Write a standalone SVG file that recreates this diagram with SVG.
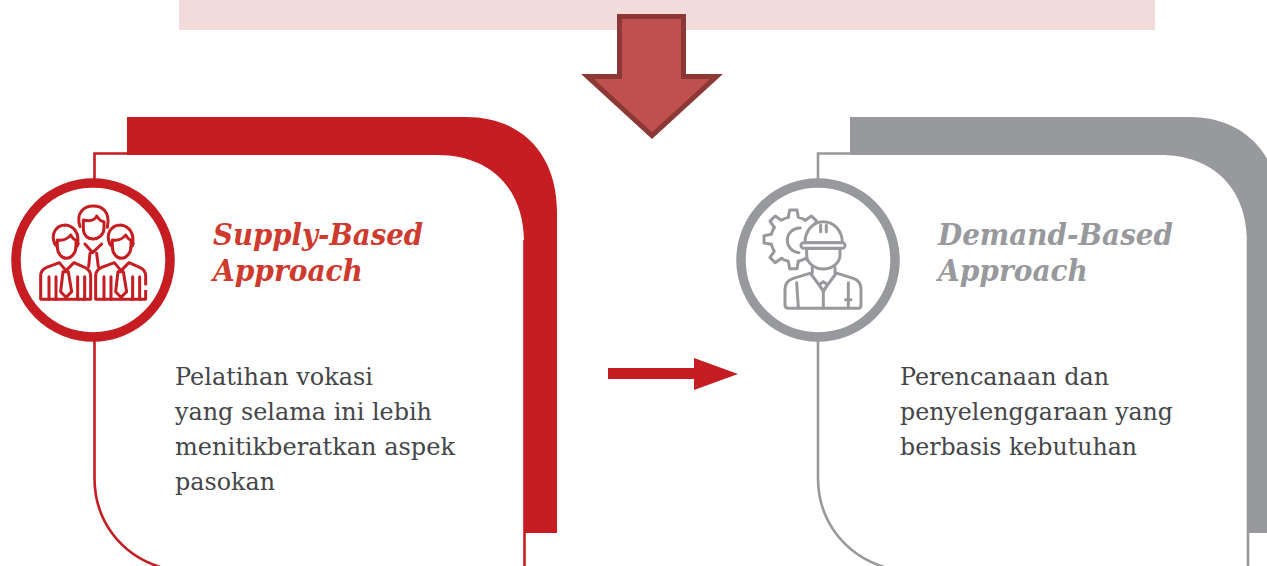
<svg xmlns="http://www.w3.org/2000/svg" xmlns:xlink="http://www.w3.org/1999/xlink" width="1267" height="566" viewBox="0 0 1267 566">
<style>
.title{font-family:"DejaVu Serif","Liberation Serif",serif;font-style:italic;font-weight:bold;font-size:29px}
.body{font-family:"DejaVu Serif","Liberation Serif",serif;font-size:24px;fill:#45454a}
.ln{fill:none;stroke-width:2.6}
.ic{fill:none;stroke-width:9;stroke-linejoin:round;stroke-linecap:round}
.red{stroke:#c51d21}.gray{stroke:#98999c}
.w{fill:#fff}
</style>
<defs>
<g id="person">
<path class="w" d="M-32 58C-47 25-27 0 0 0C25 3 43 25 35 62"/>
<path class="w" d="M-25 45C-7 47 8 40 15 30C21 40 28 45 31 45V65C31 85 15 100 3 100C-12 100-25 85-25 65Z"/>
<path d="M-32 56L-25 66M38 56L31 66"/>
<path class="w" d="M-19 113L-57 127C-69 132-75 140-75 153V223H75V153C75 140 69 132 57 127L25 113L1 137Z"/>
<path class="w" d="M-8 140H8L18 200L1 217L-15 200Z"/>
<path d="M-50 223V155M-29 155V223M36 223V155M57 155V223"/>
</g>
<path id="tooth" d="M-15-66L-11-88H11L15-66A68 68 0 0 1 36-57"/>
</defs>
<rect id="banner" x="179" y="0" width="976" height="30" fill="#f2dcdb"/>
<g id="connectors">
<polygon points="619.500,16.500 683.500,16.500 683.500,76.500 716.500,76.500 652,135.500 587.500,76.500 619.500,76.500" fill="#c0504d" stroke="#8c3836" stroke-width="5"/>
<rect x="608" y="368" width="87" height="11" fill="#c51d21"/>
<polygon points="694,358 738,374 694,390" fill="#c51d21"/>
</g>
<g id="supply">
<path d="M127 117H466C522 117 557 155 557 212V533H524V242C524 188 490 155 437 155H127Z" fill="#c51d21"/>
<path class="ln red" d="M127 153.500H94.500V478C94.500 522 122 555 160 567M524.500 240V567"/>
<circle cx="93" cy="260" r="77" fill="#fff" stroke="#c51d21" stroke-width="9.500"/>
<g class="ic red" transform="translate(0,170) scale(.3333)">
<path d="M240 170C226 125 255 108 280 108C306 108 332 125 322 172"/>
<path d="M250 150C270 155 285 150 290 138C298 150 305 155 312 155V175C312 195 295 207 280 207C262 207 250 195 250 175Z"/>
<path d="M255 222L278 248L305 222M270 250L266 290M290 250L295 290"/>
<use xlink:href="#person" transform="translate(197,165)"/>
<use xlink:href="#person" transform="translate(362,165)"/>
<rect x="428" y="346" width="18" height="14" fill="#fff" stroke="none"/>
</g>
<text class="title" x="213" y="245" fill="#cf3a2e" textLength="210" lengthAdjust="spacingAndGlyphs">Supply-Based</text>
<text class="title" x="213" y="281" fill="#cf3a2e" textLength="150" lengthAdjust="spacingAndGlyphs">Approach</text>
<text class="body" x="175" y="385" textLength="198" lengthAdjust="spacingAndGlyphs">Pelatihan vokasi</text>
<text class="body" x="175" y="420" textLength="257" lengthAdjust="spacingAndGlyphs">yang selama ini lebih</text>
<text class="body" x="175" y="455" textLength="280" lengthAdjust="spacingAndGlyphs">menitikberatkan aspek</text>
<text class="body" x="175" y="490" textLength="100" lengthAdjust="spacingAndGlyphs">pasokan</text>
</g>
<g id="demand">
<path d="M850 117H1189C1245 117 1280 155 1280 212V533H1247V242C1247 188 1213 155 1160 155H850Z" fill="#98999c"/>
<path class="ln gray" d="M850 153.500H818V478C818 522 846 555 884 567M1248 240V567"/>
<circle cx="818" cy="260" r="77" fill="#fff" stroke="#98999c" stroke-width="9.500"/>
<g class="ic gray" transform="translate(725,170) scale(.3333)">
<g transform="translate(205,208)">
<use xlink:href="#tooth"/>
<use xlink:href="#tooth" transform="rotate(45)"/>
<use xlink:href="#tooth" transform="rotate(90)"/>
<use xlink:href="#tooth" transform="rotate(135)"/>
<use xlink:href="#tooth" transform="rotate(180)"/>
<use xlink:href="#tooth" transform="rotate(225)"/>
<use xlink:href="#tooth" transform="rotate(270)"/>
<use xlink:href="#tooth" transform="rotate(315)"/>
</g>
<path d="M226 174A37 37 0 0 0 222 248"/>
<path class="w" d="M240 218C240 180 265 155 295 155C325 155 352 180 352 218Z"/>
<path class="w" d="M245 235V255C245 280 270 297 295 297C320 297 345 280 345 255V235Z"/>
<rect class="w" x="228" y="218" width="132" height="17" rx="8"/>
<path d="M287 165V185M304 165V185"/>
<path d="M262 292V308L205 325C190 330 180 340 180 358V405C180 412 185 415 190 415H400C405 415 408 412 408 405V358C408 340 400 330 385 325L330 308V292"/>
<path d="M258 312L295 362L332 312M282 345L295 335L308 345L295 364Z"/>
<path d="M215 338L220 412M295 364V412M370 338V382M370 396V412M362 389H378"/>
</g>
<text class="title" x="938" y="245" fill="#98999c" textLength="235" lengthAdjust="spacingAndGlyphs">Demand-Based</text>
<text class="title" x="938" y="281" fill="#98999c" textLength="150" lengthAdjust="spacingAndGlyphs">Approach</text>
<text class="body" x="900" y="385" textLength="209" lengthAdjust="spacingAndGlyphs">Perencanaan dan</text>
<text class="body" x="900" y="420" textLength="273" lengthAdjust="spacingAndGlyphs">penyelenggaraan yang</text>
<text class="body" x="900" y="455" textLength="237" lengthAdjust="spacingAndGlyphs">berbasis kebutuhan</text>
</g>
</svg>
